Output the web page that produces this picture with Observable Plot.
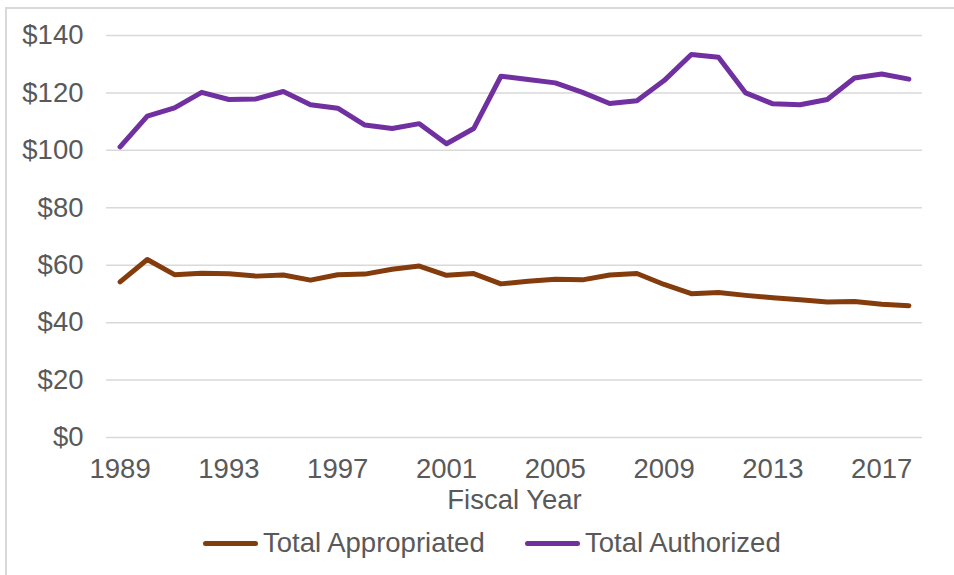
<!DOCTYPE html>
<html>
<head>
<meta charset="utf-8">
<script src="https://cdn.jsdelivr.net/npm/d3@7"></script>
<script src="https://cdn.jsdelivr.net/npm/@observablehq/plot@0.6"></script>
<style>
  html, body { margin: 0; padding: 0; background: #fff; }
  body { width: 954px; height: 575px; overflow: hidden; position: relative; font-family: "Liberation Sans", Arial, sans-serif; }
  #frame { position: absolute; left: 5px; top: 7px; width: 1000px; height: 700px; border-left: 2px solid #d9d9d9; border-top: 2px solid #d9d9d9; pointer-events: none; }
  #chart { position: absolute; left: 0; top: 0; }
  #legend { position: absolute; left: 0; top: 520px; width: 954px; height: 55px; }
  .item { position: absolute; top: 7px; display: flex; align-items: center; font-size: 27.5px; color: #595959; line-height: 32px; }
  .sw { width: 55px; height: 5px; border-radius: 3px; margin-right: 5px; }
</style>
</head>
<body>
<div id="chart"></div>
<div id="legend"></div>
<div id="frame"></div>
<script>
const years = [1989,1990,1991,1992,1993,1994,1995,1996,1997,1998,1999,2000,2001,2002,2003,2004,2005,2006,2007,2008,2009,2010,2011,2012,2013,2014,2015,2016,2017,2018];
const totalAuthorized = [101.2,111.9,114.8,120.2,117.7,117.9,120.5,115.9,114.7,108.8,107.6,109.3,102.3,107.6,125.8,124.7,123.5,120.2,116.3,117.3,124.3,133.4,132.4,120.0,116.2,115.9,117.7,125.2,126.6,124.8];
const totalAppropriated = [54.2,62.0,56.7,57.2,57.0,56.2,56.6,54.8,56.7,56.9,58.6,59.7,56.5,57.1,53.5,54.4,55.1,54.9,56.6,57.1,53.3,50.1,50.5,49.5,48.7,48.0,47.2,47.4,46.4,45.9];
const seriesNames = ["Total Appropriated", "Total Authorized"];
const seriesColors = ["#843c0c", "#7030a0"];
const xTicks = [1989,1993,1997,2001,2005,2009,2013,2017];
const yTicks = [0,20,40,60,80,100,120,140];
const xTitle = "Fiscal Year";

const data = [];
years.forEach((y, i) => {
  data.push({year: y, value: totalAppropriated[i], series: seriesNames[0]});
  data.push({year: y, value: totalAuthorized[i], series: seriesNames[1]});
});

const chart = Plot.plot({
  width: 954,
  height: 520,
  marginTop: 35,
  marginBottom: 83,
  marginLeft: 106,
  marginRight: 32,
  style: {fontFamily: "Liberation Sans, Arial, sans-serif", fontSize: "27.5px", color: "#595959", background: "transparent"},
  x: {domain: [1988.5, 2018.5]},
  y: {domain: [0, 140]},
  color: {domain: seriesNames, range: seriesColors},
  marks: [
    Plot.gridY(yTicks, {stroke: "#d9d9d9", strokeOpacity: 1, strokeWidth: 1.5}),
    Plot.axisY(yTicks, {tickSize: 0, tickPadding: 23, tickFormat: d => "$" + d, label: null, fill: "#595959"}),
    Plot.axisX(xTicks, {tickSize: 0, tickPadding: 21, tickFormat: d => String(d), label: null, fill: "#595959"}),
    Plot.text([xTitle], {frameAnchor: "bottom", dy: 63, text: d => d, fill: "#595959", fontSize: 27.5, lineAnchor: "middle"}),
    Plot.line(data, {x: "year", y: "value", z: "series", stroke: "series", strokeWidth: 5, strokeLinecap: "round", strokeLinejoin: "round"})
  ]
});
document.getElementById("chart").appendChild(chart);

const legend = document.getElementById("legend");
const lefts = [203, 525];
seriesNames.forEach((name, i) => {
  const item = document.createElement("div");
  item.className = "item";
  item.style.left = lefts[i] + "px";
  const sw = document.createElement("div");
  sw.className = "sw";
  sw.style.background = seriesColors[i];
  const t = document.createElement("span");
  t.textContent = name;
  item.appendChild(sw);
  item.appendChild(t);
  legend.appendChild(item);
});
</script>
</body>
</html>
